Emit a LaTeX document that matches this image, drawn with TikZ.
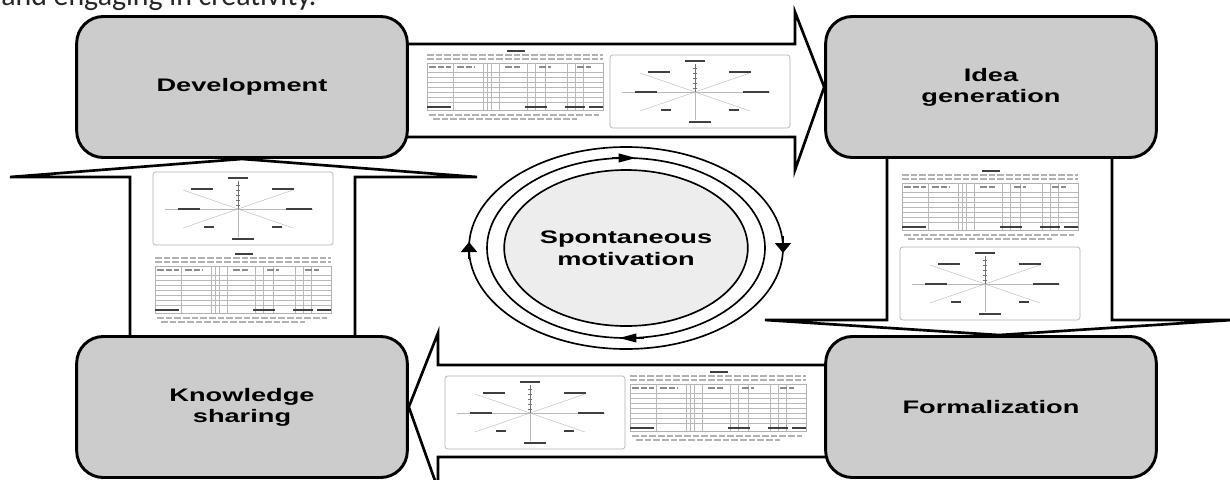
\documentclass[tikz,border=0pt]{standalone}
\usepackage{fontspec}
\usetikzlibrary{positioning,shapes.geometric,arrows.meta,backgrounds}
\newfontfamily\boxfont[FakeStretch=1.5]{Liberation Sans}
\newfontfamily\capfont{Carlito}

\tikzset{
  stage/.style={draw, line width=2.2pt, fill=gray!40, rounded corners=20pt,
    minimum width=248pt, minimum height=105.75pt, align=center,
    font=\boxfont\bfseries\fontsize{13.6}{15.75}\selectfont},
  motiv/.style={ellipse, draw, line width=1.25pt, fill=black!7, inner sep=0pt,
    minimum width=178.5pt, minimum height=117pt, align=center,
    font=\boxfont\bfseries\fontsize{13.6}{16.5}\selectfont},
  ring/.style={line width=1.25pt},
  hmark/.style={-{Triangle[length=13pt,width=6.5pt]}},
  vmark/.style={-{Triangle[length=7.5pt,width=12pt]}},
  blockarrow/.style={draw, line width=2pt, fill=white},
  thumbframe/.style={line width=0.5pt, draw=gray!60},
  thumbline/.style={line width=0.3pt, draw=gray!55},
  thumbaxis/.style={line width=0.5pt, draw=black!55},
  thumbtext/.style={line width=1.1pt, draw=black!30, dash pattern=on 5pt off 1.5pt},
  thumbdark/.style={line width=1.8pt, draw=black!75}
}

% small table picture, #1 = top left corner
\newcommand{\minitable}[1]{%
  \begin{scope}[shift={(#1)}]
    \draw[thumbdark, line width=1pt] (80,1) -- (98,1);
    \draw[thumbtext] (0,5) -- (176,5);
    \draw[thumbtext] (0,9) -- (176,9);
    \draw[thumbframe] (0,13) rectangle (176,60);
    \foreach \y in {22,27,32,37,42,47,52}
      \draw[thumbline] (0,\y) -- (176,\y);
    \foreach \x in {26,56,60,64,72,100,108,118,140,148,156}
      \draw[thumbline] (\x,13) -- (\x,60);
    \foreach \x/\l in {2/22,30/18,78/16,112/12,150/14}
      \draw[thumbtext, draw=black!45] (\x,17) -- ++(\l,0);
    \foreach \x/\l in {0/24,98/22,138/20,162/14}
      \draw[thumbdark, line width=1pt] (\x,57) -- ++(\l,0);
    \draw[thumbtext] (2,65) -- (172,65);
    \draw[thumbtext] (6,69) -- (150,69);
  \end{scope}}

% small radar chart picture, #1 = top left corner
\newcommand{\miniradar}[1]{%
  \begin{scope}[shift={(#1)}]
    \draw[thumbframe, rounded corners=2pt] (0,0) rectangle (180,73);
    \foreach \px/\py in {85/9,140/18,160/37,140/56,85/65,30/56,12/37,30/18}
      \draw[thumbline] (85,37) -- (\px,\py);
    \draw[thumbaxis] (85,37) -- (85,9);
    \foreach \y in {13,18,23,28,33}
      \draw[thumbaxis] (83,\y) -- (87,\y);
    \foreach \px/\py/\l in {85/6/20, 49/17/22, 130/17/22, 36/37/22, 146/37/26, 56/55/10, 124/55/10, 90/67/22}
      \draw[thumbdark] (\px-\l/2,\py) -- ++(\l,0);
  \end{scope}}

\begin{document}
\begin{tikzpicture}[x=0.75pt, y=-0.75pt]
  \useasboundingbox (0,0) rectangle (1230,479);

  \node (Caption) [anchor=base west, inner sep=0pt, text=black!85,
    font=\capfont\fontsize{22.4}{26}\selectfont] at (1,5) {and engaging in creativity.};

  \node (Development) [stage] at (242,87) {Development};
  \node (Idea) [stage, node distance=561.75pt, right of=Development] {Idea\\generation};
  \node (Knowledge) [stage, node distance=240pt, below of=Development] {Knowledge\\sharing};
  \node (Formal) [stage, node distance=240pt, below of=Idea] {Formalization};

  % block arrows behind the boxes
  \begin{scope}[on background layer]
    \draw[blockarrow] (400,44) -- (795,44) -- (795,12) -- (Idea.west)
      -- (795,170) -- (795,137) -- (400,137) -- cycle;
    \draw[blockarrow] (887,150) -- (887,320) -- (765,320) -- ([xshift=6pt]Formal.north)
      -- (1232,320) -- (1112,320) -- (1112,150) -- cycle;
    \draw[blockarrow] (835,365) -- (438,365) -- (438,333) -- (Knowledge.east)
      -- (438,489) -- (438,457) -- (835,457) -- cycle;
    \draw[blockarrow] (130,345) -- (130,177) -- (10,177) -- (Development.south)
      -- (477,177) -- (355,177) -- (355,345) -- cycle;
  \end{scope}

  \minitable{427,50}
  \miniradar{610,55}
  \minitable{902,170}
  \miniradar{900,247}
  \miniradar{445,376}
  \minitable{630,371}
  \miniradar{153,172}
  \minitable{155,253}

  % centre
  \node (Motiv) [motiv] at (626,248) {Spontaneous\\motivation};
  \draw[ring] (Motiv.center) ellipse [x radius=104.25pt, y radius=67.5pt];
  \draw[ring] (Motiv.center) ellipse [x radius=117.75pt, y radius=75.75pt];
  \draw[ring, hmark] (612,158) -- (636,158);
  \draw[ring, vmark] (783,236) -- (783,253);
  \draw[ring, hmark] (644,338) -- (619,338);
  \draw[ring, vmark] (469,259) -- (469,242);

\end{tikzpicture}
\end{document}
